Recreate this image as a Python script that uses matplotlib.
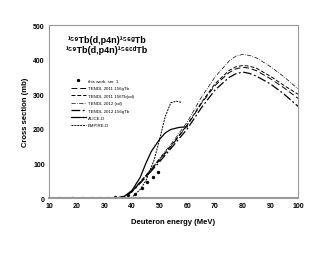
import matplotlib
matplotlib.use("Agg")
import matplotlib.pyplot as plt

plt.rcParams['font.family'] = ['Liberation Sans', 'DejaVu Sans']

# measured points (this work)
exp_E = [13.6, 18.3, 21.9, 25.5, 28.4, 31.4, 34.0, 36.3, 38.6, 41.0, 43.5, 45.5, 47.5, 49.5]
exp_xs = [0, 0, 0, 0, 0, 1, 2, 3, 8, 12, 28, 45, 62, 75]

# TENDL curves
tendl_E = [10, 30, 35, 37, 40, 45, 50, 55, 60, 65, 70, 75, 77.5, 80, 82.5, 85, 90, 95, 100]
t11_g = [0, 0, 1, 4, 18, 62, 110, 158, 210, 272, 325, 362, 373, 378, 375, 368, 345, 318, 288]
t11_cd = [0, 0, 1, 4, 20, 65, 112, 160, 212, 275, 330, 368, 379, 383, 381, 375, 352, 325, 300]
t12_cd = [0, 0, 1, 4, 20, 65, 115, 165, 220, 290, 350, 395, 410, 415, 412, 405, 380, 350, 315]
t12_g = [0, 0, 1, 4, 18, 60, 105, 152, 200, 260, 312, 348, 359, 364, 360, 352, 330, 300, 265]

alice_E = [10, 30, 35, 37, 40, 43, 45, 47, 50, 52, 54, 57, 60]
alice_xs = [0, 0, 1, 3, 22, 60, 100, 135, 170, 188, 198, 204, 206]

empire_E = [10, 38, 40, 43, 45, 48, 50, 52, 54, 56, 58]
empire_xs = [0, 0, 2, 25, 50, 110, 170, 235, 275, 280, 276]

title_lines = ['¹⁵⁹Tb(d,p4n)¹⁵⁶ᵍTb', '¹⁵⁹Tb(d,p4n)¹⁵⁶ᶜᵈTb']

fig = plt.figure(figsize=(3.3, 2.55), dpi=100)
ax = fig.add_axes([0.1485, 0.2196, 0.7545, 0.6784])

lw = 0.7
ax.plot(exp_E, exp_xs, 'o', color='black', ms=1.4, label='this work, ser. 1')
ax.plot(tendl_E, t11_g, color='black', lw=lw, dashes=(6, 3), label='TENDL 2011 156gTb')
ax.plot(tendl_E, t11_cd, color='black', lw=lw, dashes=(4, 2), label='TENDL 2011 156Tb(cd)')
ax.plot(tendl_E, t12_cd, color='black', lw=0.5, dashes=(6, 2, 1, 2), label='TENDL 2012 (cd)')
ax.plot(tendl_E, t12_g, color='black', lw=0.9, dashes=(7, 2, 1.5, 2), label='TENDL 2012 156gTb')
ax.plot(alice_E, alice_xs, color='black', lw=0.9, label='ALICE-D')
ax.plot(empire_E, empire_xs, color='black', lw=0.7, dashes=(2, 1), label='EMPIRE-D')

ax.set_xlim(10, 100)
ax.set_ylim(0, 500)
ax.set_xticks(range(10, 101, 10))
ax.set_yticks(range(0, 501, 100))
ax.tick_params(labelsize=5, length=0, pad=3)
for t in ax.get_xticklabels() + ax.get_yticklabels():
    t.set_fontweight('bold')
for s in ax.spines.values():
    s.set_color('#999999')
    s.set_linewidth(0.8)
ax.spines['bottom'].set_linewidth(1.5)

ax.set_xlabel('Deuteron energy (MeV)', fontsize=5.5, fontweight='bold', labelpad=6)
ax.set_ylabel('Cross section (mb)', fontsize=5.5, fontweight='bold', labelpad=3)

ax.text(0.233, 0.915, title_lines[0], transform=ax.transAxes,
        ha='center', va='center', fontsize=6.5, fontweight='bold')
ax.text(0.233, 0.860, title_lines[1], transform=ax.transAxes,
        ha='center', va='center', fontsize=6.5, fontweight='bold')

ax.legend(loc='upper left', bbox_to_anchor=(0.08, 0.70), fontsize=3.2, frameon=False,
          handlelength=3.5, labelspacing=0.75, handletextpad=0.4, borderaxespad=0)

fig.savefig('out.png', dpi=100)
